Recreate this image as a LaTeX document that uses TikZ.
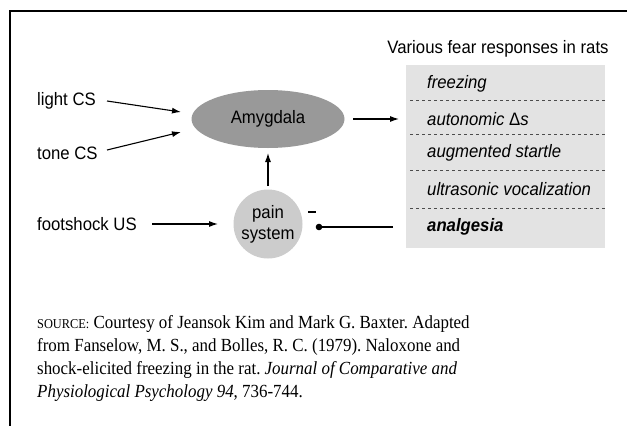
\documentclass[tikz,border=0pt]{standalone}
\usepackage{fontspec}
\setmainfont[FakeStretch=0.915]{Liberation Serif}
\newfontfamily\narrowsans[FakeStretch=0.93]{Liberation Sans}
\usetikzlibrary{arrows.meta,shapes.geometric}
\definecolor{amyg}{gray}{0.60}
\definecolor{pain}{gray}{0.80}
\definecolor{panel}{gray}{0.89}
\tikzset{
  lbl/.style={font=\narrowsans\fontsize{18}{21}\selectfont, inner sep=0pt},
  resp/.style={font=\narrowsans\itshape\fontsize{18}{21}\selectfont, anchor=west, inner sep=0pt},
  arr/.style={line width=1.1pt, -{Latex[length=9pt,width=6pt]}},
  sep/.style={dashed, dash pattern=on 3pt off 3pt, line width=0.9pt, black!70},
  note/.style={anchor=base west, inner sep=0pt, font=\frenchspacing\fontsize{18.5}{23}\selectfont},
}
\begin{document}
\begin{tikzpicture}[x=1pt,y=-1pt]
\useasboundingbox (0,0) rectangle (627,426);
% frame
\draw[line width=2pt] (10,426) -- (10,11) -- (627,11);

% response panel
\fill[panel] (406,65) rectangle (605,248);
\node[lbl, anchor=base] (title) at (498,53) {Various fear responses in rats};
\foreach \yy in {100,134,170,208}
  \draw[sep] (410,\yy) -- (605,\yy);
\node[resp] (r1) at (427,84) {freezing};
\node[resp] (r2) at (427,119) {autonomic {\upshape Δ}s};
\node[resp] (r3) at (427,153) {augmented startle};
\node[resp] (r4) at (427,189) {ultrasonic vocalization};
\node[resp, font=\narrowsans\bfseries\itshape\fontsize{18}{21}\selectfont] (r5) at (427,227) {analgesia};

% inputs
\node[lbl, anchor=west] (light) at (37,101) {light CS};
\node[lbl, anchor=west] (tone) at (37,153) {tone CS};
\node[lbl, anchor=west] (shock) at (37,224) {footshock US};

% central nodes
\node[ellipse, fill=amyg, minimum width=153pt, minimum height=58pt, lbl] (amy) at (268,119) {Amygdala};
\node[circle, fill=pain, minimum size=69pt, lbl, align=center] (painsys) at (268,224) {pain\\[0pt]system};

\coordinate (lightEnd) at (181,112);
\coordinate (toneEnd) at (181,132);
\draw[arr] (107,101) -- (lightEnd);
\draw[arr] (107,150) -- (toneEnd);
\draw[arr] (152,224) -- (218,224);
\draw[arr] (268,186) -- (268,153);
\draw[arr] (353,119) -- (399,119);

% inhibitory link
\coordinate (inhEnd) at (393,227);
\draw[line width=1.1pt] (inhEnd) -- (319,227);
\fill (319,227) circle (3.3pt);
\draw[line width=1.1pt] (308,212) -- (316,212);

% source note
\node[note] (src1) at (37,328) {{\fontsize{13.5}{23}\selectfont SOURCE:} Courtesy of Jeansok Kim and Mark G. Baxter. Adapted};
\node[note] (src2) at (37,351) {from Fanselow, M. S., and Bolles, R. C. (1979). Naloxone and};
\node[note] (src3) at (37,374) {shock-elicited freezing in the rat. \textit{Journal of Comparative and}};
\node[note] (src4) at (37,397) {\textit{Physiological Psychology 94}, 736-744.};
\end{tikzpicture}
\end{document}
